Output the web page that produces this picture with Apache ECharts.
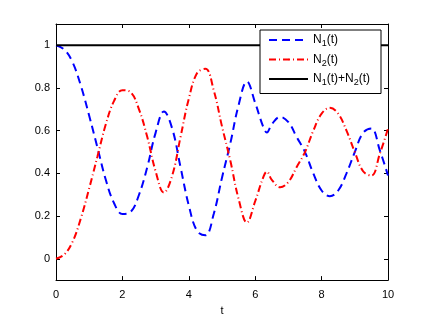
<!DOCTYPE html>
<html>
<head>
<meta charset="utf-8">
<script src="https://cdn.jsdelivr.net/npm/echarts@6/dist/echarts.min.js"></script>
<style>
  html, body { margin: 0; padding: 0; background: #fff; }
  #chart { width: 428px; height: 321px; }
</style>
</head>
<body>
<div id="chart"></div>
<script>
// time samples (t) and populations
const times = [0, 0.25, 0.5, 0.75, 1, 1.25, 1.5, 1.75, 2, 2.25, 2.5, 2.75, 3, 3.25, 3.5, 3.75,
  4, 4.25, 4.5, 4.75, 5, 5.25, 5.5, 5.75, 6, 6.25, 6.35, 6.5, 6.75, 7, 7.25, 7.5, 7.75,
  8, 8.25, 8.5, 8.75, 9, 9.25, 9.5, 9.75, 10];
const n1 = [1.00, 0.98, 0.92, 0.81, 0.67, 0.52, 0.37, 0.26, 0.21, 0.22, 0.30, 0.43, 0.59, 0.69, 0.61, 0.43,
  0.25, 0.13, 0.11, 0.21, 0.38, 0.54, 0.72, 0.83, 0.73, 0.615, 0.592, 0.63, 0.665, 0.64, 0.57, 0.50, 0.40,
  0.32, 0.293, 0.32, 0.40, 0.50, 0.59, 0.61, 0.51, 0.39];
const n2 = [0.00, 0.02, 0.08, 0.19, 0.33, 0.48, 0.63, 0.74, 0.79, 0.78, 0.70, 0.57, 0.41, 0.31, 0.39, 0.57,
  0.75, 0.87, 0.89, 0.79, 0.62, 0.46, 0.28, 0.17, 0.27, 0.385, 0.408, 0.37, 0.335, 0.36, 0.43, 0.50, 0.60,
  0.68, 0.707, 0.68, 0.60, 0.50, 0.41, 0.39, 0.49, 0.61];
const sumTimes = [0, 10];
const sumValues = [1, 1];
const yTicks = [0, 0.2, 0.4, 0.6, 0.8, 1];

const pairs = (xs, ys) => xs.map((x, i) => [x, ys[i]]);

const font = 'Liberation Sans, Arial, sans-serif';
const black = '#000';

const legendRich = {
  n: { fontSize: 12, fontFamily: font, color: black },
  s: { fontSize: 9, fontFamily: font, color: black, padding: [8, 0, 0, 0] }
};

const tickStyle = { show: true, inside: true, length: 4, lineStyle: { color: black, width: 1 } };
const lineStyle = { show: true, onZero: false, lineStyle: { color: black, width: 1 } };

const chart = echarts.init(document.getElementById('chart'));
chart.setOption({
  animation: false,
  grid: { left: 56, right: 40, top: 24, bottom: 35 },
  xAxis: [
    {
      type: 'value', min: 0, max: 10, interval: 2,
      name: 't', nameLocation: 'middle', nameGap: 24,
      nameTextStyle: { color: black, fontSize: 11, fontFamily: font },
      axisLine: lineStyle,
      axisTick: tickStyle,
      axisLabel: { color: black, fontSize: 11, fontFamily: font, margin: 9 },
      splitLine: { show: false }
    },
    {
      type: 'value', min: 0, max: 10, interval: 2, position: 'top',
      axisLine: lineStyle,
      axisTick: tickStyle,
      axisLabel: { show: false },
      splitLine: { show: false }
    }
  ],
  yAxis: [
    {
      type: 'value', min: -0.1, max: 1.1,
      axisLine: lineStyle,
      axisTick: Object.assign({ customValues: yTicks }, tickStyle),
      axisLabel: { color: black, fontSize: 11, fontFamily: font, margin: 6, customValues: yTicks },
      splitLine: { show: false }
    },
    {
      type: 'value', min: -0.1, max: 1.1, position: 'right',
      axisLine: lineStyle,
      axisTick: Object.assign({ customValues: yTicks }, tickStyle),
      axisLabel: { show: false },
      splitLine: { show: false }
    }
  ],
  legend: {
    orient: 'vertical',
    left: 260, top: 30,
    padding: [4, 11, 6, 8],
    itemGap: 5,
    itemWidth: 39, itemHeight: 2,
    backgroundColor: '#fff',
    borderColor: black, borderWidth: 1,
    data: ['N1', 'N2', 'N1+N2'],
    formatter: name => {
      if (name === 'N1') return '{n|N}{s|1}{n|(t)}';
      if (name === 'N2') return '{n|N}{s|2}{n|(t)}';
      return '{n|N}{s|1}{n|(t)+N}{s|2}{n|(t)}';
    },
    textStyle: { rich: legendRich }
  },
  series: [
    {
      name: 'N1', type: 'line', smooth: 0.4, symbol: 'none',
      data: pairs(times, n1),
      lineStyle: { color: '#0000ff', width: 2, type: [8, 5] },
      itemStyle: { color: '#0000ff' }
    },
    {
      name: 'N2', type: 'line', smooth: 0.4, symbol: 'none',
      data: pairs(times, n2),
      lineStyle: { color: '#ff0000', width: 2, type: [7, 3, 1, 3] },
      itemStyle: { color: '#ff0000' }
    },
    {
      name: 'N1+N2', type: 'line', symbol: 'none',
      data: pairs(sumTimes, sumValues),
      lineStyle: { color: black, width: 2, type: 'solid' },
      itemStyle: { color: black }
    },
    {
      // invisible, only keeps the mirrored top/right axes alive
      type: 'line', xAxisIndex: 1, yAxisIndex: 1, symbol: 'none', silent: true,
      data: [], lineStyle: { opacity: 0 }
    }
  ]
});
</script>
</body>
</html>
